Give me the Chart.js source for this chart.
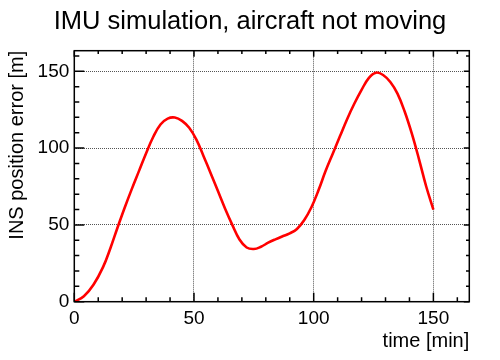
<!DOCTYPE html>
<html><head><meta charset="utf-8">
<script src="https://cdn.jsdelivr.net/npm/chart.js@4.4.1/dist/chart.umd.min.js"></script>
<style>html,body{margin:0;padding:0;background:#fff}</style>
</head><body>
<canvas id="c" width="500" height="360"></canvas>
<script>
const chartTitle = 'IMU simulation, aircraft not moving';
const xTitle = 'time [min]';
const yTitle = 'INS position error [m]';
const timeMin = [0,4,8,12,15,18,21,24,27,30,33,36,39,42,45,48,51,54,57,60,63,66,69,72,75,78,81,84,87,90,93,96,99,102,105,108,111,114,117,120,123,126,129,132,135,138,141,144,147,150];
const errorM  = [0,3.5,11,22.5,34.5,48,61,73.3,85,96.7,107.4,115.4,119.2,119.9,117.7,113.2,105.5,94.7,83.5,72,60.5,50,40.5,35.3,34.3,35.8,38.4,40.6,42.6,44.5,47.3,53,61.3,72.5,85.2,96.5,107.8,119,129,137.9,145.6,149.1,147.6,143,135.5,123.8,109.4,92.7,75,60];
const majorTicks = [0,50,100,150];
const FONT = "'Liberation Sans', Arial, Helvetica, sans-serif";

const frameTicks = {
  id: 'frameTicks',
  afterDraw(chart) {
    const {ctx, chartArea: a, scales: {x, y}} = chart;
    ctx.save();
    ctx.strokeStyle = '#000';
    ctx.lineWidth = 1.5;
    ctx.beginPath();
    x.ticks.forEach(t => {
      const p = x.getPixelForValue(t.value);
      const major = majorTicks.includes(t.value);
      const lb = major ? 9 : 4.5, lt = major ? 6 : 3.3;
      ctx.moveTo(p, a.bottom); ctx.lineTo(p, a.bottom - lb);
      ctx.moveTo(p, a.top); ctx.lineTo(p, a.top + lt);
    });
    y.ticks.forEach(t => {
      const p = y.getPixelForValue(t.value);
      const major = majorTicks.includes(t.value);
      const ll = major ? 10 : 5, lr = major ? 5.5 : 3.3;
      ctx.moveTo(a.left, p); ctx.lineTo(a.left + ll, p);
      ctx.moveTo(a.right, p); ctx.lineTo(a.right - lr, p);
    });
    ctx.stroke();
    ctx.strokeRect(a.left, a.top, a.right - a.left, a.bottom - a.top);
    ctx.restore();
  }
};

const gridColor = c => (c.tick && majorTicks.includes(c.tick.value)) ? '#555' : 'rgba(0,0,0,0)';
const tickCb = v => majorTicks.includes(v) ? String(v) : '';

new Chart(document.getElementById('c'), {
  type: 'line',
  data: { datasets: [{
    data: timeMin.map((t, i) => ({x: t, y: errorM[i]})),
    borderColor: '#ff0000', borderWidth: 2.6, pointRadius: 0,
    tension: 0.4, cubicInterpolationMode: 'default', fill: false
  }]},
  options: {
    responsive: false, animation: false, devicePixelRatio: 1,
    layout: { padding: 0 },
    plugins: {
      legend: { display: false }, tooltip: { enabled: false },
      title: { display: true, text: chartTitle, color: '#000',
        font: { family: FONT, size: 25.5, weight: 'normal', lineHeight: 1.2 },
        padding: { top: 7, bottom: 13.1 } }
    },
    scales: {
      x: {
        type: 'linear', min: 0, max: 165,
        afterFit: s => { s.height = 58.3; },
        grid: { color: gridColor, lineWidth: 1, drawTicks: false, tickLength: 0 },
        border: { display: false, dash: [1, 1] },
        ticks: { stepSize: 10, includeBounds: false, autoSkip: false, maxRotation: 0,
          callback: tickCb, color: '#000', padding: 6, font: { family: FONT, size: 19 } },
        title: { display: true, text: xTitle, align: 'end', color: '#000',
          font: { family: FONT, size: 20 }, padding: { top: 0, bottom: 7 } }
      },
      y: {
        type: 'linear', min: 0, max: 163.4,
        afterFit: s => { s.width = 74.3; },
        grid: { color: gridColor, lineWidth: 1, drawTicks: false, tickLength: 0 },
        border: { display: false, dash: [1, 1] },
        ticks: { stepSize: 10, includeBounds: false, autoSkip: false,
          callback: tickCb, color: '#000', padding: 5, font: { family: FONT, size: 19 } },
        title: { display: true, text: yTitle, align: 'end', color: '#000',
          font: { family: FONT, size: 20 }, padding: { top: 5, bottom: 0 } }
      },
      yRight: {
        type: 'linear', position: 'right', min: 0, max: 163.4,
        afterFit: s => { s.width = 30.7; },
        grid: { display: false }, border: { display: false },
        ticks: { display: false }
      }
    }
  },
  plugins: [frameTicks]
});
</script>
</body></html>
